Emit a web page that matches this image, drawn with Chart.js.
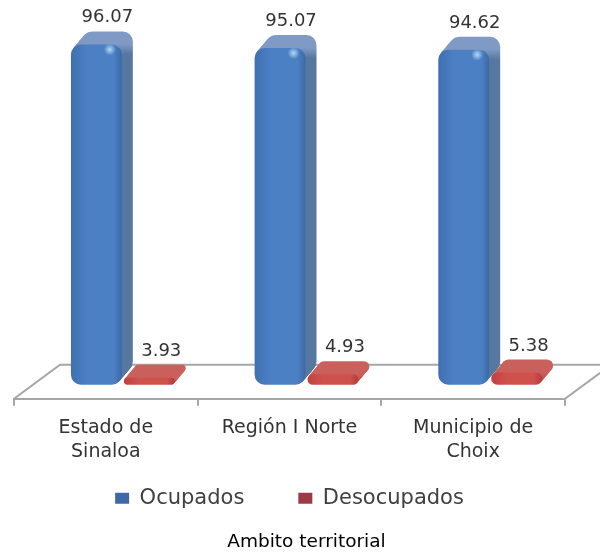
<!DOCTYPE html>
<html>
<head>
<meta charset="utf-8">
<script src="https://cdn.jsdelivr.net/npm/chart.js@4"></script>
<style>
  html, body { margin: 0; background: #fff; }
  canvas { display: block; filter: blur(0.5px); }
</style>
</head>
<body>
<canvas id="chart" width="600" height="556"></canvas>
<script>
const categories = [['Estado de', 'Sinaloa'], 'Región I Norte', ['Municipio de', 'Choix']];
const ocupados = [96.07, 95.07, 94.62];
const desocupados = [3.93, 4.93, 5.38];

const FONT = '"DejaVu Sans"';
const BAR_SHIFT = 17;
const DEPTH_X = 11;
const DEPTH_Y = 13;

/** Horizontal gradient over the front face of one bar. */
function barFill(context, stops) {
  if (context.dataIndex === undefined) return stops[1];
  const chart = context.chart;
  const x = chart.scales.x;
  if (!x) return stops[1];
  const side = context.datasetIndex === 0 ? -26.5 : 26.5;
  const center = x.getPixelForValue(context.dataIndex) + side;
  const g = chart.ctx.createLinearGradient(center - 25, 0, center + 25, 0);
  g.addColorStop(0, stops[0]);
  g.addColorStop(0.3, stops[1]);
  g.addColorStop(0.85, stops[1]);
  g.addColorStop(1, stops[2]);
  return g;
}

/** Floor of the pseudo 3D box, behind the bars. */
const floorPlugin = {
  id: 'floor',
  afterLayout(chart) {
    // axis title sits right of the plot centre
    chart.titleBlock.left += 17;
    chart.titleBlock.right += 17;
  },
  beforeDatasetsDraw(chart) {
    const { ctx, chartArea: a } = chart;
    ctx.save();
    ctx.strokeStyle = '#a6a6a6';
    ctx.lineWidth = 2;
    ctx.beginPath();
    ctx.moveTo(a.left, a.bottom);
    ctx.lineTo(a.left + 46, a.bottom - 34);
    ctx.lineTo(a.right + 46, a.bottom - 34);
    ctx.lineTo(a.right, a.bottom);
    ctx.stroke();
    ctx.restore();
  },
};

/** Extruded depth behind each bar, and the shift of the bars onto the floor. */
const depthPlugin = {
  id: 'depth',
  beforeDatasetsDraw(chart) {
    const ctx = chart.ctx;
    ctx.save();
    ctx.translate(BAR_SHIFT, 0);
    const colors = [['#7f9ac4', '#56779f'], ['#c9605c', '#b8484a']];
    chart.data.datasets.forEach((ds, d) => {
      chart.getDatasetMeta(d).data.forEach((bar) => {
        const left = bar.x - bar.width / 2;
        const h = bar.base - bar.y;
        const r = Math.min(10, h / 2);
        const g = ctx.createLinearGradient(0, bar.y - DEPTH_Y, 0, bar.y + 10);
        g.addColorStop(0, colors[d][0]);
        g.addColorStop(0.55, colors[d][0]);
        g.addColorStop(1, colors[d][1]);
        ctx.fillStyle = g;
        for (let i = DEPTH_X; i > 0; i--) {
          const t = i / DEPTH_X;
          ctx.beginPath();
          ctx.roundRect(left + i, bar.y - t * DEPTH_Y, bar.width, h, r);
          ctx.fill();
        }
      });
    });
  },
  afterDatasetsDraw(chart) {
    const ctx = chart.ctx;
    // specular spot on the tall bars
    chart.getDatasetMeta(0).data.forEach((bar) => {
      const cx = bar.x + bar.width / 2 - 12;
      const cy = bar.y + 5;
      const g = ctx.createRadialGradient(cx, cy, 0, cx, cy, 6);
      g.addColorStop(0, 'rgba(200,230,255,0.85)');
      g.addColorStop(1, 'rgba(200,230,255,0)');
      ctx.fillStyle = g;
      ctx.fillRect(cx - 6, cy - 6, 12, 12);
    });
    ctx.restore();
  },
};

/** Value labels above each bar. */
const valuePlugin = {
  id: 'values',
  afterDraw(chart) {
    const ctx = chart.ctx;
    ctx.save();
    ctx.font = '18px ' + FONT;
    ctx.fillStyle = '#333';
    ctx.textAlign = 'center';
    ctx.textBaseline = 'alphabetic';
    chart.data.datasets.forEach((ds, d) => {
      chart.getDatasetMeta(d).data.forEach((bar, i) => {
        ctx.fillText(ds.data[i].toFixed(2), bar.x + BAR_SHIFT + 11 + d, bar.y - DEPTH_Y - 9);
      });
    });
    ctx.restore();
  },
};

new Chart(document.getElementById('chart'), {
  type: 'bar',
  data: {
    labels: categories,
    datasets: [
      {
        label: 'Ocupados',
        data: ocupados,
        backgroundColor: (c) => barFill(c, ['#3f70b2', '#4b80c4', '#3d6aa6']),
      },
      {
        label: 'Desocupados',
        data: desocupados,
        backgroundColor: (c) => barFill(c, ['#c0423f', '#d0504c', '#b23c3a']),
      },
    ],
  },
  options: {
    responsive: false,
    animation: false,
    layout: { padding: { left: 14, right: 35, top: 12, bottom: 3 } },
    datasets: {
      bar: {
        base: 2,
        categoryPercentage: 0.576,
        barPercentage: 0.962,
        borderRadius: 10,
        borderSkipped: false,
      },
    },
    scales: {
      y: { display: false, min: -1.88, max: 105.05 },
      x: {
        border: { color: '#a6a6a6', width: 2 },
        grid: { color: '#a6a6a6', lineWidth: 2, drawOnChartArea: false, tickLength: 7 },
        afterFit(scale) {
          // legend box is tall because of its item gap, let the tick labels run into it
          scale.height = 35;
          scale._computeLabelArea = () => null;
        },
        ticks: {
          color: '#333',
          maxRotation: 0,
          autoSkip: false,
          padding: 10,
          font: { family: FONT, size: 19, lineHeight: 1.26 },
        },
      },
    },
    plugins: {
      tooltip: { enabled: false },
      legend: {
        position: 'bottom',
        labels: {
          color: '#404040',
          font: { family: FONT, size: 21 },
          boxWidth: 14,
          boxHeight: 11,
          padding: 54,
          generateLabels: (chart) => [
            { text: 'Ocupados', fillStyle: '#3f68a8', strokeStyle: '#3f68a8', lineWidth: 0, datasetIndex: 0, fontColor: '#404040' },
            { text: 'Desocupados', fillStyle: '#9c3a44', strokeStyle: '#9c3a44', lineWidth: 0, datasetIndex: 1, fontColor: '#404040' },
          ],
        },
      },
      title: {
        display: true,
        position: 'bottom',
        text: 'Ambito territorial',
        color: '#000',
        font: { family: FONT, size: 18.5, weight: 'normal' },
        padding: { top: 12, bottom: 0 },
      },
    },
  },
  plugins: [floorPlugin, depthPlugin, valuePlugin],
});
</script>
</body>
</html>
